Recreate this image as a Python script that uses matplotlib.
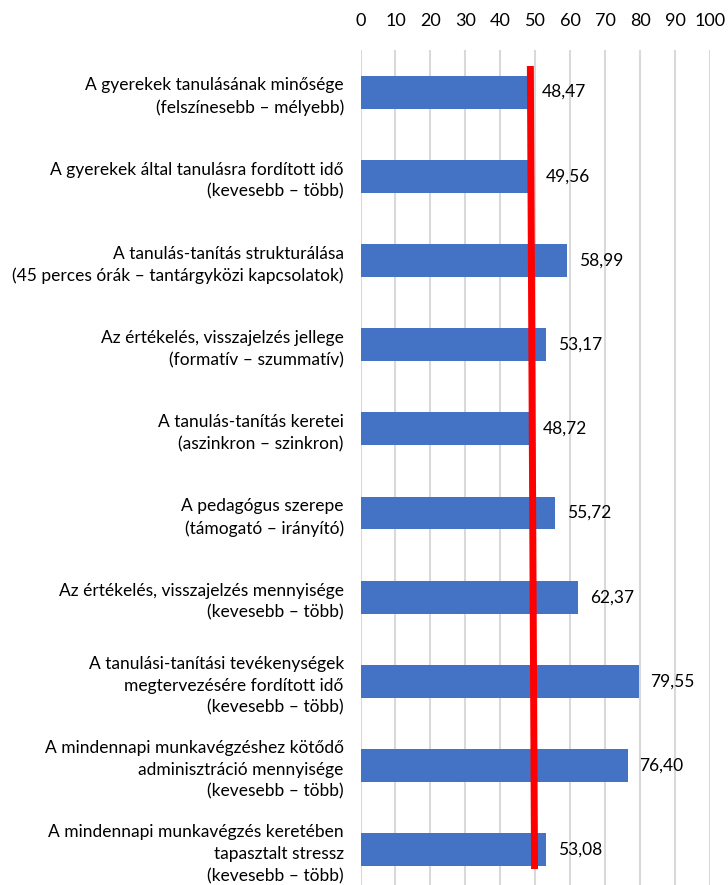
import matplotlib.pyplot as plt

# Data
categories = [
    "A gyerekek tanulásának minősége\n(felszínesebb – mélyebb)",
    "A gyerekek által tanulásra fordított idő\n(kevesebb – több)",
    "A tanulás-tanítás strukturálása\n(45 perces órák – tantárgyközi kapcsolatok)",
    "Az értékelés, visszajelzés jellege\n(formatív – szummatív)",
    "A tanulás-tanítás keretei\n(aszinkron – szinkron)",
    "A pedagógus szerepe\n(támogató – irányító)",
    "Az értékelés, visszajelzés mennyisége\n(kevesebb – több)",
    "A tanulási-tanítási tevékenységek\nmegtervezésére fordított idő\n(kevesebb – több)",
    "A mindennapi munkavégzéshez kötődő\nadminisztráció mennyisége\n(kevesebb – több)",
    "A mindennapi munkavégzés keretében\ntapasztalt stressz\n(kevesebb – több)",
]
values = [48.47, 49.56, 58.99, 53.17, 48.72, 55.72, 62.37, 79.55, 76.40, 53.08]
xticks = [0, 10, 20, 30, 40, 50, 60, 70, 80, 90, 100]

# hand-drawn red reference line (slightly slanted in the original)
ref_x = [48.6, 49.8]
ref_y = [-0.31, 9.23]

BAR = "#4472C4"
GRID = "#D9D9D9"

plt.rcParams["font.family"] = ["Lato", "DejaVu Sans"]

fig = plt.figure(figsize=(7.28, 8.85), dpi=100)
ax = fig.add_axes([360.5 / 728, 0.0, (710 - 360.5) / 728, 1 - 50 / 885])

ypos = list(range(len(values)))
bars = ax.barh(ypos, values, height=0.39, color=BAR, zorder=2)

ax.set_xlim(0, 100)
ax.set_ylim(9.42, -0.5)
ax.set_xticks(xticks)
ax.xaxis.tick_top()
ax.tick_params(axis="x", length=0, pad=15, labelsize=13)
ax.tick_params(axis="y", length=0, pad=12, labelsize=12.5)
ax.set_yticks(ypos)
ax.set_yticklabels(categories, ha="right", linespacing=1.45)
ax.grid(axis="x", color=GRID, linewidth=1.5, zorder=0)
for s in ax.spines.values():
    s.set_visible(False)

ax.plot(ref_x, ref_y, color="#FF0000", linewidth=5, zorder=3, solid_capstyle="butt")

for b, v in zip(bars, values):
    ax.annotate(f"{v:.2f}".replace(".", ","),
                (v, b.get_y() + b.get_height() / 2),
                xytext=(8.6, 0), textcoords="offset points",
                ha="left", va="center", fontsize=12.5, color="#000000")

fig.savefig("out.png", dpi=100, facecolor="white")
